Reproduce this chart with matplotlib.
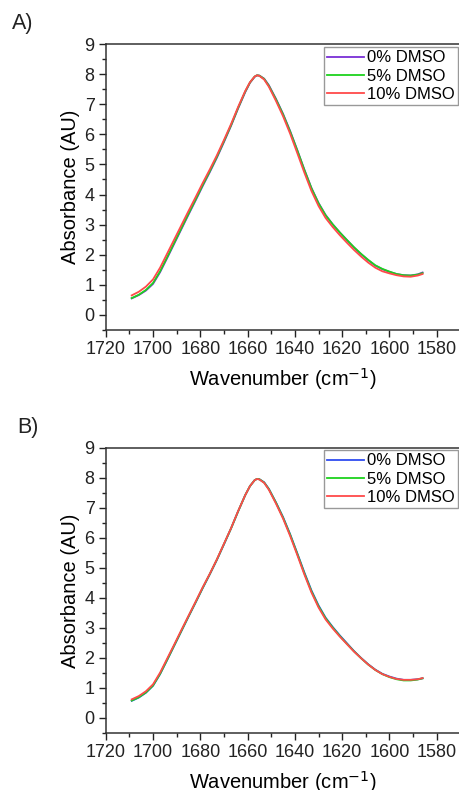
import matplotlib
matplotlib.use("Agg")
import matplotlib.pyplot as plt
from matplotlib.ticker import MultipleLocator

plt.rcParams['font.family'] = ['Liberation Sans', 'DejaVu Sans']

wavenumber = [1709, 1706, 1703, 1700, 1697, 1694, 1691, 1688, 1685, 1682, 1679, 1676,
              1673, 1670, 1667, 1664, 1661, 1659, 1657, 1656, 1655, 1653, 1651, 1648,
              1645, 1642, 1639, 1636, 1633, 1630, 1627, 1624, 1621, 1618, 1615, 1612,
              1609, 1606, 1603, 1600, 1597, 1594, 1591, 1588, 1586]

# Panel A
a_dmso0 = [0.55, 0.66, 0.81, 1.03, 1.42, 1.89, 2.37, 2.85, 3.33, 3.80, 4.28, 4.74,
           5.22, 5.74, 6.28, 6.86, 7.40, 7.71, 7.91, 7.96, 7.95, 7.85, 7.63, 7.18,
           6.68, 6.11, 5.48, 4.83, 4.22, 3.72, 3.32, 3.01, 2.74, 2.49, 2.24, 2.02,
           1.82, 1.64, 1.52, 1.43, 1.36, 1.32, 1.31, 1.35, 1.41]
a_dmso5 = [0.56, 0.67, 0.83, 1.06, 1.45, 1.92, 2.40, 2.88, 3.36, 3.83, 4.31, 4.77,
           5.25, 5.77, 6.30, 6.88, 7.42, 7.72, 7.92, 7.96, 7.95, 7.84, 7.61, 7.16,
           6.66, 6.09, 5.47, 4.82, 4.21, 3.71, 3.31, 3.01, 2.74, 2.49, 2.25, 2.03,
           1.83, 1.65, 1.53, 1.44, 1.36, 1.32, 1.31, 1.34, 1.39]
a_dmso10 = [0.65, 0.77, 0.94, 1.18, 1.57, 2.04, 2.51, 2.98, 3.45, 3.91, 4.38, 4.83,
            5.30, 5.81, 6.34, 6.91, 7.44, 7.73, 7.92, 7.96, 7.94, 7.82, 7.58, 7.11,
            6.60, 6.02, 5.38, 4.73, 4.12, 3.62, 3.22, 2.92, 2.65, 2.40, 2.16, 1.94,
            1.74, 1.57, 1.45, 1.38, 1.32, 1.28, 1.27, 1.31, 1.36]

# Panel B
b_dmso0 = [0.57, 0.68, 0.84, 1.07, 1.46, 1.93, 2.41, 2.89, 3.37, 3.84, 4.32, 4.78,
           5.26, 5.78, 6.31, 6.88, 7.42, 7.72, 7.92, 7.96, 7.95, 7.85, 7.63, 7.18,
           6.69, 6.12, 5.49, 4.85, 4.25, 3.75, 3.34, 3.03, 2.75, 2.49, 2.23, 2.00,
           1.79, 1.61, 1.47, 1.38, 1.31, 1.27, 1.27, 1.29, 1.32]
b_dmso5 = [0.58, 0.69, 0.85, 1.08, 1.47, 1.94, 2.42, 2.90, 3.38, 3.85, 4.33, 4.79,
           5.27, 5.79, 6.31, 6.88, 7.42, 7.72, 7.92, 7.96, 7.95, 7.84, 7.62, 7.17,
           6.67, 6.10, 5.47, 4.82, 4.22, 3.72, 3.32, 3.01, 2.73, 2.47, 2.22, 1.99,
           1.78, 1.60, 1.46, 1.36, 1.29, 1.25, 1.25, 1.28, 1.32]
b_dmso10 = [0.62, 0.73, 0.89, 1.12, 1.51, 1.98, 2.45, 2.93, 3.40, 3.87, 4.35, 4.80,
            5.28, 5.80, 6.32, 6.89, 7.42, 7.72, 7.92, 7.96, 7.94, 7.83, 7.60, 7.14,
            6.64, 6.06, 5.43, 4.78, 4.18, 3.68, 3.28, 2.98, 2.71, 2.46, 2.21, 1.99,
            1.78, 1.60, 1.46, 1.37, 1.30, 1.27, 1.27, 1.29, 1.33]

labels = ['0% DMSO', '5% DMSO', '10% DMSO']
colors_a = ['#7A2FD6', '#1ED21E', '#FF4A4A']
colors_b = ['#2F4CF0', '#1ED21E', '#FF4A4A']

W, H = 459, 790
fig = plt.figure(figsize=(W / 100, H / 100), dpi=100)

def px_axes(left, top, right, bottom):
    return fig.add_axes([left / W, 1 - bottom / H, (right - left) / W, (bottom - top) / H])

panels = [
    (px_axes(105.7, 44, 460.4, 330), [a_dmso0, a_dmso5, a_dmso10], colors_a, 'A)', (12, 24), 47),
    (px_axes(105.7, 447.7, 460.4, 733), [b_dmso0, b_dmso5, b_dmso10], colors_b, 'B)', (17, 427), 450),
]

for ax, series, cols, tag, tagpos, legtop in panels:
    for ys, c, lab in zip(series, cols, labels):
        ax.plot(wavenumber, ys, color=c, lw=1.3, label=lab)
    ax.set_xlim(1720, 1570)
    ax.set_ylim(-0.5, 9)
    ax.xaxis.set_major_locator(MultipleLocator(20))
    ax.xaxis.set_minor_locator(MultipleLocator(10))
    ax.yaxis.set_major_locator(MultipleLocator(1))
    ax.yaxis.set_minor_locator(MultipleLocator(0.5))
    ax.tick_params(which='major', direction='out', length=5, width=1, labelsize=13,
                   colors='#222222', pad=3)
    ax.tick_params(which='minor', direction='out', length=3, width=1, colors='#222222')
    for s in ax.spines.values():
        s.set_linewidth(1.1)
        s.set_color('#333333')
    ax.set_xlabel('Wavenumber (cm$^{-1}$)', fontsize=14.5, labelpad=6)
    ax.set_ylabel('Absorbance (AU)', fontsize=14.5, labelpad=3)
    ax.legend(loc='upper right', bbox_to_anchor=(458 / W, 1 - legtop / H),
              bbox_transform=fig.transFigure, borderaxespad=0, fontsize=12,
              frameon=True, fancybox=False, framealpha=1, edgecolor='#999999',
              handlelength=2.2, handletextpad=0.2, labelspacing=0.2,
              borderpad=0.2)
    fig.text(tagpos[0] / W, 1 - tagpos[1] / H, tag, fontsize=15.5, va='center', ha='left',
             color='#222222')

fig.savefig('out.png', dpi=100)
